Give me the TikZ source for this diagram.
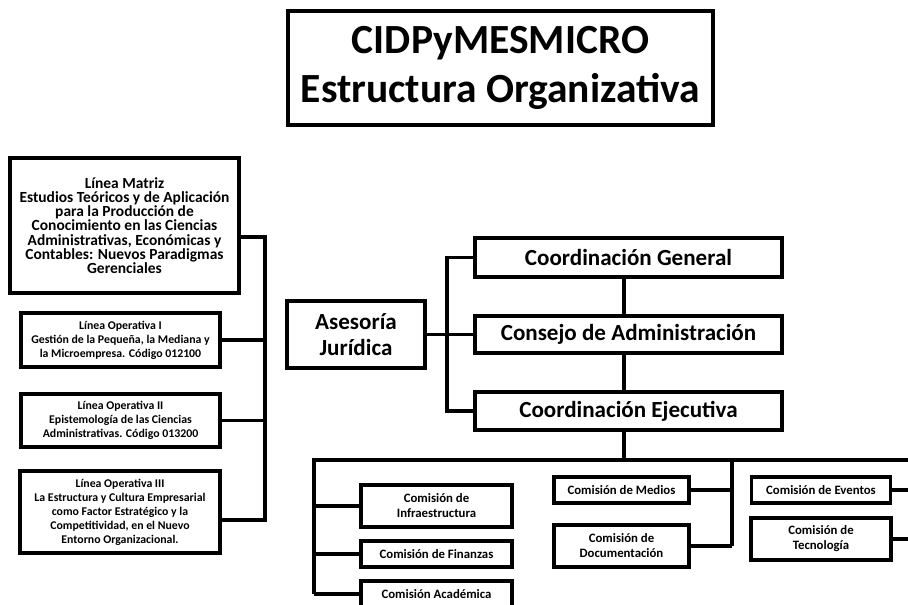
\documentclass[tikz,border=0pt]{standalone}
\usepackage{fontspec}
\setmainfont{Carlito}
\newdimen\px \px=0.025cm
\begin{document}
\begin{tikzpicture}[x=0.025cm,y=-0.025cm,line join=miter,line width=2.4pt]
	\tikzset{every node/.style={draw,line width=2.4pt,align=center,inner sep=0pt},
		cabeza/.style={font=\bfseries\fontsize{29.5}{34.7}\selectfont},
		grande/.style={font=\bfseries\fontsize{16.4}{19}\selectfont},
		matriz/.style={font=\bfseries\fontsize{11}{10.1}\selectfont},
		linea/.style={font=\bfseries\fontsize{8.4}{9.9}\selectfont},
		comision/.style={font=\bfseries\fontsize{9.1}{10.6}\selectfont}}
	\clip (0,0) rectangle (908,605);
	\node[cabeza,minimum width=425\px,minimum height=114\px] (titulo) at (500.5,68) {CIDPyMESMICRO\\Estructura Organizativa};
	% lineas de investigacion
	\node[matriz,minimum width=229\px,minimum height=135\px] (lm) at (124.5,225.5) {Línea Matriz\\Estudios Teóricos y de Aplicación\\para la Producción de\\Conocimiento en las Ciencias\\Administrativas, Económicas y\\Contables: Nuevos Paradigmas\\Gerenciales};
	\node[linea,minimum width=199\px,minimum height=54\px] (lo1) at (120.5,340) {Línea Operativa I\\Gestión de la Pequeña, la Mediana y\\la Microempresa. Código 012100};
	\node[linea,minimum width=199\px,minimum height=53\px] (lo2) at (120.5,420.5) {Línea Operativa II\\Epistemología de las Ciencias\\Administrativas. Código 013200};
	\node[linea,minimum width=200\px,minimum height=82\px] (lo3) at (120,512) {Línea Operativa III\\La Estructura y Cultura Empresarial\\como Factor Estratégico y la\\Competitividad, en el Nuevo\\Entorno Organizacional.};
	\coordinate (ltop) at (265,237);
	\coordinate (lbot) at (265,520);
	\draw (lm.east |- ltop) -- (ltop) -- (lbot) -- (lo3.east |- lbot);
	\foreach \n in {lo1,lo2}
	\draw (\n) -- (\n -| ltop);
	% coordinaciones
	\node[grande,minimum width=138\px,minimum height=67\px] (aj) at (356,334.5) {Asesoría\\Jurídica};
	\node[grande,minimum width=307\px,minimum height=39\px] (cg) at (628.5,257.5) {Coordinación General};
	\node[grande,minimum width=307\px,minimum height=37\px] (ca) at (628.5,334.5) {Consejo de Administración};
	\node[grande,minimum width=307\px,minimum height=38\px] (ce) at (628.5,411) {Coordinación Ejecutiva};
	\coordinate (brk) at (447,0);
	\coordinate (eje) at (624,460);
	\draw (cg.west) -- (cg.west -| brk) -- (ce.west -| brk) -- (ce.west);
	\draw (aj) -- (ca);
	\draw (cg.south -| eje) -- (ca.north -| eje);
	\draw (ca.south -| eje) -- (ce.north -| eje);
	\draw (ce.south -| eje) -- (eje);
	% comisiones
	\node[comision,minimum width=151\px,minimum height=42\px] (inf) at (436.5,506) {Comisión de\\Infraestructura};
	\node[comision,minimum width=151\px,minimum height=26\px] (fin) at (436.5,554) {Comisión de Finanzas};
	\node[comision,minimum width=151\px,minimum height=26\px] (aca) at (436.5,594) {Comisión Académica};
	\node[comision,minimum width=135\px,minimum height=26\px] (med) at (621.5,490) {Comisión de Medios};
	\node[comision,minimum width=135\px,minimum height=42\px] (doc) at (621.5,546) {Comisión de\\Documentación};
	\node[comision,minimum width=139\px,minimum height=26\px] (eve) at (821,490) {Comisión de Eventos};
	\node[comision,minimum width=140\px,minimum height=42\px] (tec) at (821,539) {Comisión de\\Tecnología};
	\coordinate (c1) at (314,460);
	\coordinate (c2) at (732,460);
	\coordinate (c3) at (915,460);
	\draw (c1 |- aca) -- (c1) -- (c3);
	\draw (c2) -- (c2 |- doc);
	\foreach \n in {inf,fin,aca}
	\draw (\n) -- (\n -| c1);
	\foreach \n in {med,doc}
	\draw (\n) -- (\n -| c2);
	\foreach \n in {eve,tec}
	\draw (\n) -- (\n -| c3);
\end{tikzpicture}
\end{document}
